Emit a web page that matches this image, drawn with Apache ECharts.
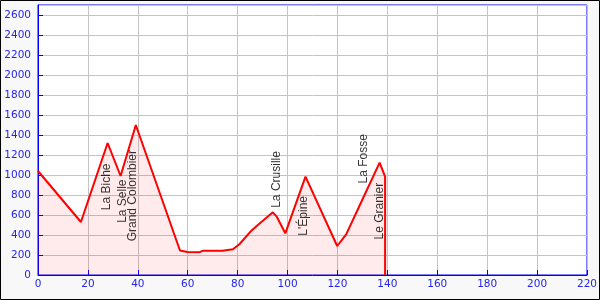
<!DOCTYPE html>
<html>
<head>
<meta charset="utf-8">
<script src="https://cdn.jsdelivr.net/npm/echarts@6/dist/echarts.min.js"></script>
<style>
html,body{margin:0;padding:0;background:#f8f8f8;}
#c{width:600px;height:300px;}
</style>
</head>
<body>
<div id="c"></div>
<script>
// Route profile: distance (km) and elevation (m)
const distanceKm = [0, 17.2, 27.9, 33.1, 39.2, 56.9, 59.9, 64.8, 66.1, 73.9, 78.1, 80.8, 85.5, 88.1, 94.1, 95.7, 99.1, 107.2, 119.9, 123.5, 128.8, 136.9, 139.1, 139.1];
const elevationM = [1040, 530, 1320, 990, 1500, 245, 230, 228, 243, 243, 257, 310, 443, 500, 627, 583, 417, 983, 290, 407, 690, 1123, 983, 0];

// Named passes / places
const placeNames = ['La Biche', 'La Selle', 'Grand Colombier', 'La Crusille', "L'Épine", 'La Fosse', 'Le Granier'];
const placeKm = [27.5, 34.1, 38.1, 95.5, 106.4, 130.4, 136.8];
const placeElev = [1320, 1160, 1455, 627, 995, 870, 1127];
const placeSide = ['below', 'below', 'below', 'above', 'below', 'above', 'below'];

// Axis ticks
const xTicks = { min: 0, max: 220, step: 20 };
const yTicks = { min: 0, max: 2700, step: 200 };

const profile = distanceKm.map((k, i) => [k, elevationM[i]]);
const places = placeNames.map((n, i) => {
  const above = placeSide[i] === 'above';
  return {
    name: n,
    value: [placeKm[i], placeElev[i]],
    label: {
      position: above ? 'top' : 'bottom',
      distance: above ? 4 : 20,
      align: above ? 'left' : 'right'
    }
  };
});

const blue = '#0000ff';
const labBlue = '#2424f0';
const chart = echarts.init(document.getElementById('c'), null, { renderer: 'canvas' });
chart.setOption({
  animation: false,
  backgroundColor: '#f8f8f8',
  grid: {
    left: 38, right: 12, top: 5, bottom: 25,
    show: true, backgroundColor: '#ffffff', borderColor: blue, borderWidth: 1
  },
  xAxis: {
    type: 'value', min: xTicks.min, max: xTicks.max, interval: xTicks.step,
    axisLine: { show: true, lineStyle: { color: blue, width: 1 } },
    axisTick: { show: true, inside: true, length: 5, lineStyle: { color: blue } },
    axisLabel: { color: labBlue, fontFamily: 'DejaVu Sans', fontSize: 10.5, margin: 4,
      formatter: v => String(v) },
    splitLine: { show: true, lineStyle: { color: '#c4c4c4', width: 1 } }
  },
  yAxis: {
    type: 'value', min: yTicks.min, max: yTicks.max, interval: yTicks.step,
    axisLine: { show: true, lineStyle: { color: blue, width: 1 } },
    axisTick: { show: true, inside: true, length: 5, lineStyle: { color: blue } },
    axisLabel: { color: labBlue, fontFamily: 'DejaVu Sans', fontSize: 10.5, margin: 7, showMaxLabel: false,
      formatter: v => (v % yTicks.step === 0 ? String(v) : '') },
    splitLine: { show: true, lineStyle: { color: '#c4c4c4', width: 1 } }
  },
  graphic: [{
    type: 'rect', z: 100, silent: true,
    shape: { x: 0.5, y: 0.5, width: 599, height: 299 },
    style: { fill: 'none', stroke: '#000000', lineWidth: 1 }
  }],
  series: [{
    type: 'line',
    data: profile,
    symbol: 'none',
    lineStyle: { color: '#ff0000', width: 2 },
    areaStyle: { color: 'rgba(255,0,0,0.11)', origin: 'start' },
    z: 2
  }, {
    type: 'scatter',
    data: places,
    symbolSize: 1,
    itemStyle: { color: 'rgba(0,0,0,0)' },
    silent: true,
    z: 3,
    label: {
      show: true,
      formatter: p => p.name,
      rotate: 90,
      verticalAlign: 'middle',
      color: '#000000',
      fontFamily: 'Liberation Sans',
      fontSize: 12
    }
  }]
});
</script>
</body>
</html>
